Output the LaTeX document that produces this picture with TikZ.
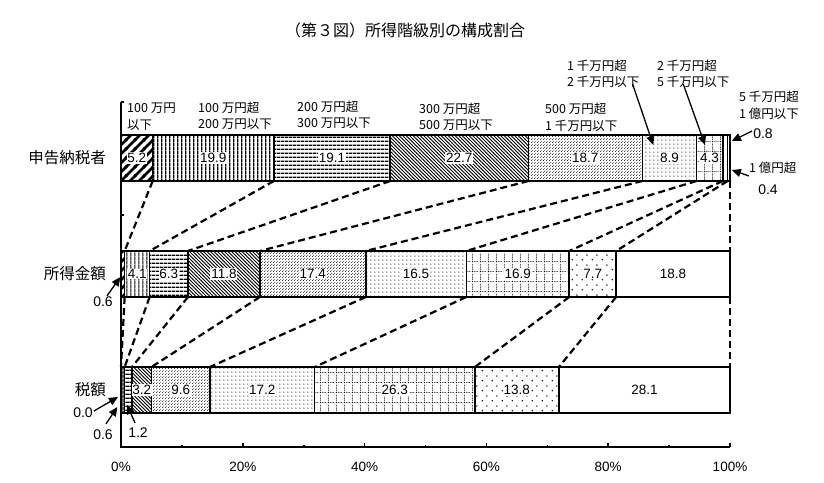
\documentclass[tikz,border=0pt]{standalone}
\usepackage{fontspec}
\setmainfont{Liberation Sans}
\newfontfamily\jp{Noto Sans CJK JP}
\usetikzlibrary{arrows.meta,patterns}

\pgfdeclarepatternformonly{thickne}{\pgfpoint{-1pt}{-1pt}}{\pgfpoint{10pt}{10pt}}{\pgfpoint{9pt}{9pt}}{%
  \pgfsetlinewidth{2.6pt}%
  \pgfpathmoveto{\pgfpoint{-1pt}{-1pt}}\pgfpathlineto{\pgfpoint{10pt}{10pt}}%
  \pgfpathmoveto{\pgfpoint{8pt}{-1pt}}\pgfpathlineto{\pgfpoint{10pt}{1pt}}%
  \pgfpathmoveto{\pgfpoint{-1pt}{8pt}}\pgfpathlineto{\pgfpoint{1pt}{10pt}}%
  \pgfusepath{stroke}}
\pgfdeclarepatternformonly{nwfine}{\pgfpoint{-1pt}{-1pt}}{\pgfpoint{4.5pt}{4.5pt}}{\pgfpoint{3.5pt}{3.5pt}}{%
  \pgfsetlinewidth{0.8pt}%
  \pgfpathmoveto{\pgfpoint{-0.2pt}{3.7pt}}\pgfpathlineto{\pgfpoint{3.7pt}{-0.2pt}}%
  \pgfusepath{stroke}}
\pgfdeclarepatternformonly{vbars}{\pgfpointorigin}{\pgfpoint{3.8pt}{3.8pt}}{\pgfpoint{3.8pt}{3.8pt}}{%
  \pgfsetlinewidth{1.2pt}%
  \pgfpathmoveto{\pgfpoint{1.9pt}{0pt}}\pgfpathlineto{\pgfpoint{1.9pt}{3.8pt}}%
  \pgfusepath{stroke}}
\pgfdeclarepatternformonly{hbars}{\pgfpointorigin}{\pgfpoint{3.7pt}{3.7pt}}{\pgfpoint{3.7pt}{3.7pt}}{%
  \pgfsetlinewidth{1.3pt}%
  \pgfpathmoveto{\pgfpoint{0pt}{1.85pt}}\pgfpathlineto{\pgfpoint{3.7pt}{1.85pt}}%
  \pgfusepath{stroke}}
\pgfdeclarepatternformonly{densedots}{\pgfpointorigin}{\pgfpoint{3pt}{3pt}}{\pgfpoint{3pt}{3pt}}{%
  \pgfpathcircle{\pgfpoint{0.75pt}{0.75pt}}{0.6pt}%
  \pgfpathcircle{\pgfpoint{2.25pt}{2.25pt}}{0.6pt}%
  \pgfusepath{fill}}
\pgfdeclarepatternformonly{middots}{\pgfpointorigin}{\pgfpoint{4.3pt}{4.3pt}}{\pgfpoint{4.3pt}{4.3pt}}{%
  \pgfpathcircle{\pgfpoint{2.15pt}{2.15pt}}{0.65pt}%
  \pgfusepath{fill}}
\pgfdeclarepatternformonly{sparsedots}{\pgfpointorigin}{\pgfpoint{10pt}{10pt}}{\pgfpoint{10pt}{10pt}}{%
  \pgfpathcircle{\pgfpoint{2.5pt}{2.5pt}}{0.85pt}%
  \pgfpathcircle{\pgfpoint{7.5pt}{7.5pt}}{0.85pt}%
  \pgfusepath{fill}}
\pgfdeclarepatternformonly{dotgrid}{\pgfpointorigin}{\pgfpoint{8pt}{10pt}}{\pgfpoint{8pt}{10pt}}{%
  \pgfsetlinewidth{0.9pt}\pgfsetdash{{0.9pt}{1.1pt}}{0pt}%
  \pgfpathmoveto{\pgfpoint{0.5pt}{0pt}}\pgfpathlineto{\pgfpoint{0.5pt}{10pt}}%
  \pgfpathmoveto{\pgfpoint{0pt}{0.5pt}}\pgfpathlineto{\pgfpoint{8pt}{0.5pt}}%
  \pgfusepath{stroke}}

\begin{document}
\begin{tikzpicture}[x=1pt,y=-1pt,
    seg/.style={draw,line width=1.6pt},
    lv1/.style={pattern=thickne},
    lv2/.style={pattern=vbars},
    lv3/.style={pattern=hbars},
    lv4/.style={pattern=nwfine},
    lv5/.style={pattern=densedots},
    lv6/.style={pattern=middots},
    lv7/.style={pattern=dotgrid},
    lv8/.style={pattern=sparsedots},
    lv9/.style={fill=white},
    val/.style={fill=white,inner sep=0.8pt,font=\fontsize{13.5}{13.5}\selectfont},
    call/.style={inner sep=1pt,font=\fontsize{14}{14}\selectfont},
    cat/.style={anchor=west,align=left,inner sep=0pt,font=\jp\fontsize{12.5}{16.5}\selectfont},
    row/.style={anchor=east,inner sep=0pt,font=\jp\fontsize{15.5}{15.5}\selectfont},
    link/.style={line width=2.2pt,dash pattern=on 7pt off 4pt},
    arr/.style={-{Triangle[length=9pt,width=8pt]},line width=1.3pt},
    axis/.style={line width=1.6pt}]
\fill[white] (0,0) rectangle (824,482);
\node[font=\jp\fontsize{16}{16}\selectfont] (title) at (405,30) {（第３図）所得階級別の構成割合};

\begin{scope}[shift={(121,0)},x=6.09pt]
  \foreach \p [count=\i] in {0,5.2,25.1,44.2,66.9,85.6,94.5,98.8,99.6,100}
    \coordinate (t\i) at (\p,181);
  \foreach \p [count=\i] in {0,0.6,4.7,11.0,22.8,40.2,56.7,73.6,81.3,100} {
    \coordinate (m\i) at (\p,251);
    \coordinate (n\i) at (\p,297);
  }
  \foreach \p [count=\i] in {0,0,0.6,1.8,5.0,14.6,31.8,58.1,71.9,100}
    \coordinate (u\i) at (\p,367);
  \foreach \i in {1,...,10} {
    \draw[link] (t\i) -- (m\i);
    \draw[link] (n\i) -- (u\i);
  }

  \foreach \a/\b [count=\i] in {0/5.2,5.2/25.1,25.1/44.2,44.2/66.9,66.9/85.6,85.6/94.5,94.5/98.8,98.8/99.6,99.6/100}
    \draw[seg,lv\i] (\a,135) rectangle (\b,181);
  \foreach \a/\b [count=\i] in {0/0.6,0.6/4.7,4.7/11.0,11.0/22.8,22.8/40.2,40.2/56.7,56.7/73.6,73.6/81.3,81.3/100}
    \draw[seg,lv\i] (\a,251) rectangle (\b,297);
  \foreach \a/\b [count=\i] in {0/0,0/0.6,0.6/1.8,1.8/5.0,5.0/14.6,14.6/31.8,31.8/58.1,58.1/71.9,71.9/100}
    \draw[seg,lv\i] (\a,367) rectangle (\b,413);

  \foreach \p/\v [count=\i] in {2.6/5.2,15.15/19.9,34.65/19.1,55.55/22.7,76.25/18.7,90.05/8.9,96.65/4.3}
    \node[val] (a\i) at (\p,158) {\v};
  \foreach \p/\v [count=\i] in {2.65/4.1,7.85/6.3,16.9/11.8,31.5/17.4,48.45/16.5,65.15/16.9,77.45/7.7,90.65/18.8}
    \node[val] (b\i) at (\p,274) {\v};
  \foreach \p/\v [count=\i] in {3.4/3.2,9.8/9.6,23.2/17.2,44.95/26.3,65/13.8,85.95/28.1}
    \node[val] (c\i) at (\p,390) {\v};

  \draw[axis] (0,102) -- (0,447) -- (100,447);
  \foreach \y in {102,215,332}
    \draw[axis] (0,\y) -- (0.5,\y);
  \foreach \p in {20,40,...,100}
    \draw[axis] (\p,447) -- (\p,443);
  \foreach \p in {10,30,...,90}
    \draw[axis] (\p,447) -- (\p,444.5);
  \foreach \p in {0,20,...,100}
    \node[font=\fontsize{13.5}{13.5}\selectfont] (pc\p) at (\p,467) {\p\%};

  \coordinate (p6) at (87.4,145);
  \coordinate (p7) at (95.9,145);
  \coordinate (p8) at (100.3,141);
  \coordinate (p9) at (100.3,170);
  \coordinate (q1) at (-0.1,277);
  \coordinate (r1) at (-0.5,397);
  \coordinate (r2) at (-0.6,407);
  \coordinate (r3) at (1.0,405);
\end{scope}

\node[row] (lab1) at (106,158) {申告納税者};
\node[row] (lab2) at (106,274) {所得金額};
\node[row] (lab3) at (106,390) {税額};

\node[cat] (k1) at (127,116.5) {100 万円\\以下};
\node[cat] (k2) at (198,116) {100 万円超\\200 万円以下};
\node[cat] (k3) at (297,115) {200 万円超\\300 万円以下};
\node[cat] (k4) at (419,117) {300 万円超\\500 万円以下};
\node[cat] (k5) at (545,117.5) {500 万円超\\1 千万円以下};
\node[cat] (k6) at (567,74) {1 千万円超\\2 千万円以下};
\node[cat] (k7) at (657,74) {2 千万円超\\5 千万円以下};
\node[cat] (k8) at (739,105.5) {5 千万円超\\1 億円以下};
\node[cat] (k9) at (749,168) {1 億円超};

\node[call] (v8) at (763,134) {0.8};
\node[call] (v9) at (768,190) {0.4};
\node[call] (w1) at (103,302) {0.6};
\node[call] (z1) at (83,413) {0.0};
\node[call] (z2) at (103,435) {0.6};
\node[call] (z3) at (138,433) {1.2};

\draw[arr] ([xshift=-7pt,yshift=4pt]k6.south east) -- (p6);
\draw[arr] ([xshift=-10pt,yshift=4pt]k7.south) -- (p7);
\draw[arr] ([yshift=3pt]v8.west) -- (p8);
\draw[arr] ([yshift=-2pt]k9.south west) -- (p9);
\draw[arr] ([xshift=4pt]w1.north) -- (q1);
\draw[arr] ([yshift=2pt]z1.east) -- (r1);
\draw[arr] ([xshift=3pt,yshift=5pt]z2.north) -- (r2);
\draw[arr] ([xshift=-3pt,yshift=4pt]z3.north) -- (r3);
\end{tikzpicture}
\end{document}
